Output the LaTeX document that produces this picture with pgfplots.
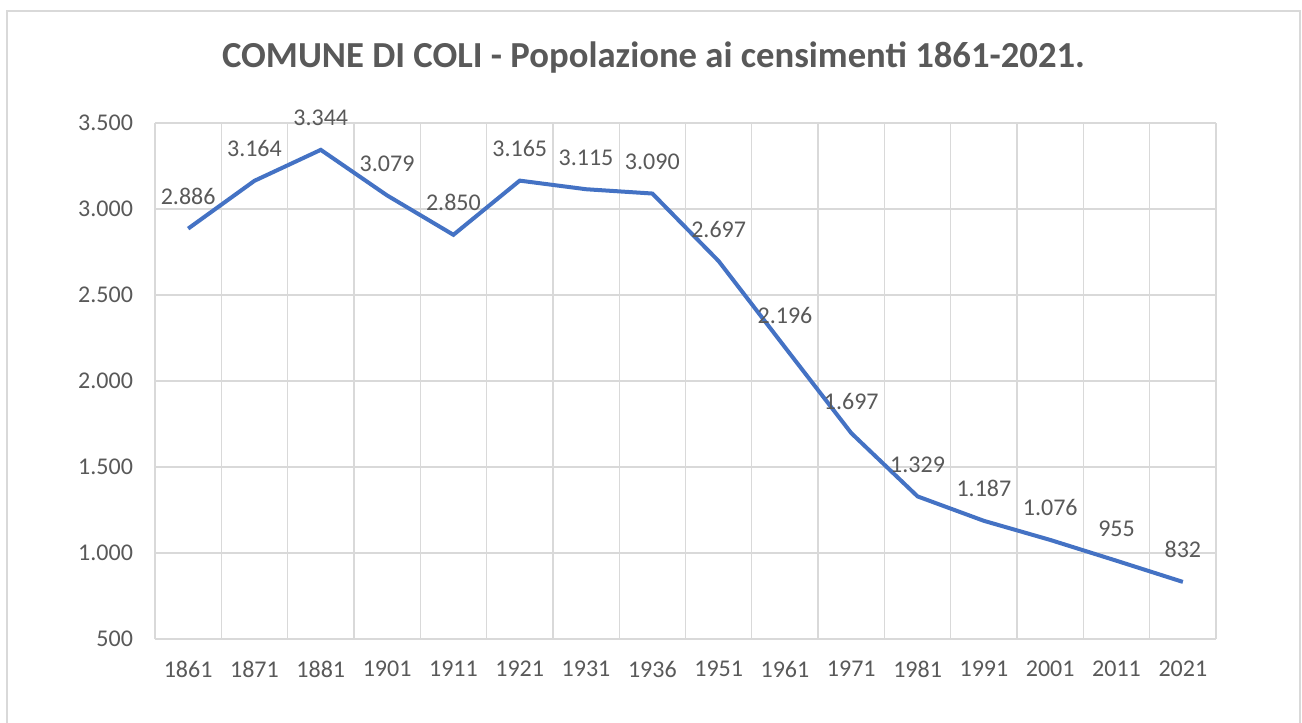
\documentclass[border=0pt]{standalone}
\usepackage{fontspec}
\setmainfont{Carlito}
\usepackage{pgfplots}
\pgfplotsset{compat=1.18}
\definecolor{txt}{HTML}{595959}
\definecolor{grd}{HTML}{D9D9D9}
\definecolor{ln}{HTML}{4472C4}
\begin{document}
\begin{tikzpicture}
\begin{scope}[x=0.75pt,y=-0.75pt]
\path[use as bounding box] (0,0) rectangle (1302,722);
\fill[white] (0,0) rectangle (1302,722);
\draw[grd, line width=1.1pt] (7,11) rectangle (1300,760);
\node[anchor=base, font=\fontsize{27.5}{32}\selectfont\bfseries, text=txt, inner sep=0pt] at (653.5,67) {COMUNE DI COLI - Popolazione ai censimenti 1861-2021.};
\end{scope}
\begin{axis}[
  at={(116.25pt,-479.25pt)}, anchor=south west,
  scale only axis, width=795.75pt, height=387pt,
  xmin=-0.5, xmax=15.5, ymin=500, ymax=3500,
  xtick={0,...,15},
  xticklabels={1861,1871,1881,1901,1911,1921,1931,1936,1951,1961,1971,1981,1991,2001,2011,2021},
  minor xtick={-0.5,0.5,...,15.5},
  ytick={500,1000,...,3500},
  xminorgrids=true, ymajorgrids=true, xmajorgrids=false,
  grid style={grd, line width=1pt},
  minor grid style={grd, line width=1pt},
  axis line style={draw=none},
  major tick length=0pt, minor tick length=0pt,
  tick label style={font=\fontsize{18}{21}\selectfont, text=txt},
  yticklabel style={xshift=-13pt},
  xticklabel style={yshift=-13pt},
  /pgf/number format/1000 sep={.},
  /pgf/number format/assume math mode=true,
  clip=false,
  nodes near coords,
  nodes near coords style={font=\fontsize{18}{21}\selectfont, text=txt, anchor=south, yshift=13pt},
]
\addplot[ln, line width=3pt, mark=none] coordinates {
(0,2886) (1,3164) (2,3344) (3,3079) (4,2850) (5,3165) (6,3115) (7,3090)
(8,2697) (9,2196) (10,1697) (11,1329) (12,1187) (13,1076) (14,955) (15,832)
};
\end{axis}
\end{tikzpicture}
\end{document}
